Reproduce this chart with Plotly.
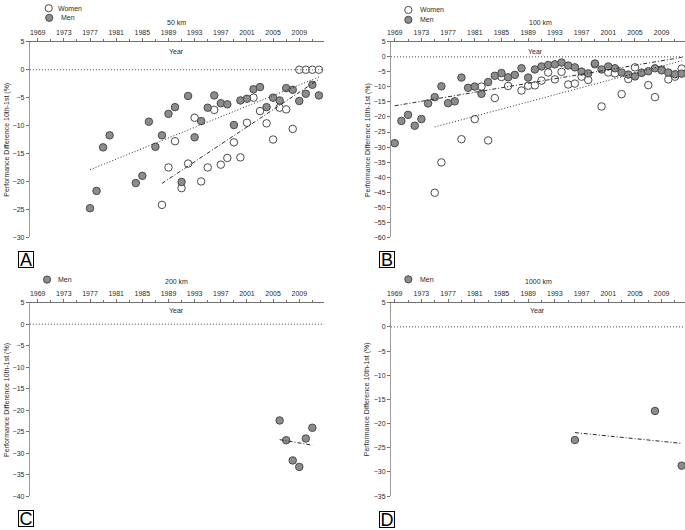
import numpy as np
import plotly.graph_objects as go

W, H = 685, 530

# ---------------- data ----------------
# Panel A: 50 km
years_50_women = [1988, 1989, 1990, 1991, 1992, 1993, 1994, 1995, 1996, 1997, 1998, 1999,
                  2000, 2001, 2002, 2003, 2004, 2005, 2006, 2007, 2008, 2009, 2010, 2011, 2012]
diff_50_women = [-24.2, -17.5, -12.8, -21.2, -16.8, -8.6, -20.0, -17.5, -7.2, -17.0, -15.8, -13.0,
                 -15.7, -9.5, -5.0, -7.4, -9.6, -12.5, -6.8, -7.1, -10.6, 0.0, 0.0, 0.0, 0.0]
years_50_men = [1977, 1978, 1979, 1980, 1984, 1985, 1986, 1987, 1988, 1989, 1990, 1991, 1992,
                1993, 1994, 1995, 1996, 1997, 1998, 1999, 2000, 2001, 2002, 2003, 2004, 2005,
                2006, 2007, 2008, 2009, 2010, 2011, 2012]
diff_50_men = [-24.8, -21.7, -13.9, -11.75, -20.3, -19.0, -9.3, -13.8, -11.75, -7.9, -6.7, -20.1, -4.7,
               -12.1, -9.2, -6.8, -4.6, -6.0, -6.2, -9.9, -5.5, -5.2, -3.5, -3.1, -6.7, -5.0,
               -5.5, -3.3, -3.6, -5.6, -4.3, -2.7, -4.6]

# Panel B: 100 km
years_100_women = [1975, 1976, 1979, 1981, 1982, 1983, 1984, 1985, 1986, 1988, 1989, 1990, 1991,
                   1992, 1993, 1994, 1995, 1996, 1997, 1998, 1999, 2000, 2001, 2002, 2003, 2004,
                   2005, 2006, 2007, 2008, 2009, 2010, 2011, 2012]
diff_100_women = [-45.2, -35.1, -27.4, -20.7, -9.9, -27.8, -13.7, -6.7, -9.7, -11.2, -9.6, -9.5, -7.9,
                  -5.2, -7.5, -5.0, -9.2, -8.9, -6.6, -7.7, -2.5, -16.5, -5.2, -5.5, -12.4, -7.4,
                  -3.5, -5.3, -9.4, -13.4, -4.2, -7.5, -6.6, -3.9]
years_100_men = list(range(1969, 2013))
diff_100_men = [-28.7, -21.3, -19.3, -22.9, -20.7, -15.5, -13.4, -9.8, -15.4, -14.8, -6.9, -10.3,
                -9.9, -12.3, -8.4, -6.3, -5.4, -6.8, -6.0, -3.8, -6.9, -4.2, -3.2, -2.7, -2.5,
                -1.9, -2.9, -3.5, -4.9, -5.5, -2.2, -4.2, -3.2, -3.8, -5.2, -5.9, -6.5, -5.3,
                -4.8, -3.8, -4.5, -5.2, -5.8, -5.6]

# Panel C: 200 km
years_200_men = [2006, 2007, 2008, 2009, 2010, 2011]
diff_200_men = [-22.4, -27.0, -31.7, -33.2, -26.6, -24.1]

# Panel D: 1000 km
years_1000_men = [1996, 2008, 2012]
diff_1000_men = [-23.4, -17.4, -28.7]

tick_years = list(range(1969, 2010, 4))
minor_years = list(range(1971, 2013, 4))
panel_titles = ["50 km", "100 km", "200 km", "1000 km"]
panel_letters = ["A", "B", "C", "D"]
y_title = "Performance Difference 10th-1st (%)"

# ---------------- style ----------------
FONT = "Liberation Sans, Arial, Helvetica, sans-serif"
MEN_FILL = "#8c8c8c"
EDGE = "#4a4a4a"
AXIS = "#707070"
TXT = "#2a2a2a"
DASHDOT = "4px,2px,1px,2px"
DOTTED = "1px,2px"


def px(x):
    return x / W


def py(y):
    return 1 - y / H


fig = go.Figure()


def add_panel(n, women_x, women_y, men_x, men_y, women_dash, men_dash):
    xa = "x" if n == 1 else f"x{n}"
    ya = "y" if n == 1 else f"y{n}"
    if women_x is not None:
        fig.add_trace(go.Scatter(x=women_x, y=women_y, mode="markers", xaxis=xa, yaxis=ya,
                                 marker=dict(size=7.5, color="white", line=dict(color=EDGE, width=1)),
                                 showlegend=False, name="Women", cliponaxis=False))
    fig.add_trace(go.Scatter(x=men_x, y=men_y, mode="markers", xaxis=xa, yaxis=ya,
                             marker=dict(size=7.5, color=MEN_FILL, line=dict(color=EDGE, width=1)),
                             showlegend=False, name="Men", cliponaxis=False))
    # linear trends computed from the data
    series = ([(women_x, women_y, women_dash)] if women_x is not None else []) + [(men_x, men_y, men_dash)]
    for xs, ys, dash in series:
        k, b = np.polyfit(xs, ys, 1)
        xx = np.array([min(xs), max(xs)], dtype=float)
        fig.add_trace(go.Scatter(x=xx, y=k * xx + b, mode="lines", xaxis=xa, yaxis=ya,
                                 line=dict(color="#2a2a2a", width=1, dash=dash),
                                 showlegend=False, hoverinfo="skip"))


add_panel(1, years_50_women, diff_50_women, years_50_men, diff_50_men, DASHDOT, DOTTED)
add_panel(2, years_100_women, diff_100_women, years_100_men, diff_100_men, DOTTED, DASHDOT)
add_panel(3, None, None, years_200_men, diff_200_men, None, DASHDOT)
add_panel(4, None, None, years_1000_men, diff_1000_men, None, DASHDOT)

# ---------------- axes ----------------
left_dom = [px(26), px(322)]
right_dom = [px(389.3), 1.0]
top_dom = [py(236.4), py(38.3)]
bot_dom = [py(498.7), py(302.7)]

x_ranges = [[1967.8, 2012.8], [1968.45, 2012.5], [1967.8, 2012.8], [1968.45, 2012.5]]
y_ranges = [[-30, 5], [-60, 5], [-40, 5], [-35, 5]]
x_doms = [left_dom, right_dom, left_dom, right_dom]
y_doms = [top_dom, top_dom, bot_dom, bot_dom]

layout_axes = {}
for i in range(4):
    n = i + 1
    xkey = "xaxis" if n == 1 else f"xaxis{n}"
    ykey = "yaxis" if n == 1 else f"yaxis{n}"
    layout_axes[xkey] = dict(
        domain=x_doms[i], range=x_ranges[i], side="top",
        anchor="y" if n == 1 else f"y{n}",
        tickvals=tick_years, ticks="outside", ticklen=3, tickwidth=1, tickcolor=AXIS,
        showline=True, linecolor=AXIS, linewidth=1, showgrid=False, zeroline=False,
        tickfont=dict(family=FONT, size=7, color=TXT),
        minor=dict(tickvals=minor_years, ticks="outside", ticklen=2, tickcolor=AXIS, showgrid=False),
    )
    lo, hi = y_ranges[i]
    layout_axes[ykey] = dict(
        domain=y_doms[i], range=[lo, hi],
        anchor="x" if n == 1 else f"x{n}",
        tickvals=list(range(lo, hi + 1, 5)), ticks="outside", ticklen=3, tickwidth=1, tickcolor=AXIS,
        showline=True, linecolor="#9a9a9a", linewidth=1, showgrid=False, zeroline=False,
        tickfont=dict(family=FONT, size=7, color=TXT),
    )

# ---------------- zero lines ----------------
shapes = []
for n in range(1, 5):
    xa = "x" if n == 1 else f"x{n}"
    ya = "y" if n == 1 else f"y{n}"
    shapes.append(dict(type="line", xref=f"{xa} domain", yref=ya, x0=0, x1=1, y0=0, y1=0,
                       line=dict(color="#444", width=1, dash=DOTTED)))

# ---------------- annotations ----------------
ann = []
small = dict(family=FONT, size=7, color=TXT)
title_pos = [(173.3, 19), (540, 19), (173.3, 281.7), (538, 281.7)]
year_pos = [(173.3, 47.7), (534.3, 47.7), (173.3, 311), (536.7, 311)]
ytitle_pos = [(3.5, 137), (365.5, 137.5), (3.5, 400.7), (366, 400.7)]
letter_pos = [(21.7, 259.3), (385.3, 258.7), (22, 521.3), (385.7, 522)]
for i in range(4):
    ann.append(dict(text=panel_titles[i], x=px(title_pos[i][0]), y=py(title_pos[i][1]), xref="paper",
                    yref="paper", showarrow=False, xanchor="center", yanchor="middle", font=small))
    ann.append(dict(text="Year", x=px(year_pos[i][0]), y=py(year_pos[i][1]), xref="paper",
                    yref="paper", showarrow=False, xanchor="center", yanchor="middle", font=small))
    ann.append(dict(text=y_title, x=px(ytitle_pos[i][0]), y=py(ytitle_pos[i][1]), xref="paper",
                    yref="paper", showarrow=False, xanchor="center", yanchor="middle",
                    textangle=-90, font=small))
    ann.append(dict(text=panel_letters[i], x=px(letter_pos[i][0]), y=py(letter_pos[i][1]),
                    xref="paper", yref="paper", showarrow=False, xanchor="center", yanchor="middle",
                    font=dict(family=FONT, size=18, color="black"), bordercolor="black",
                    borderwidth=1, borderpad=0, width=14, height=15))

# legends (symbol shapes + labels)
legend_items = [
    # (circle x, circle y, text x, label, filled)
    (45, 4.3, 52, "Women", False),
    (45.5, 14, 55, "Men", True),
    (406.7, 6, 416.5, "Women", False),
    (406.7, 16, 416, "Men", True),
    (43.3, 279.3, 52.5, "Men", True),
    (406.7, 279, 416, "Men", True),
]
for cx, cy, tx, label, filled in legend_items:
    shapes.append(dict(type="circle", xref="paper", yref="paper", xsizemode="pixel", ysizemode="pixel",
                       xanchor=px(cx), yanchor=py(cy), x0=-3.6, x1=3.6, y0=-3.6, y1=3.6,
                       fillcolor=MEN_FILL if filled else "white", line=dict(color=EDGE, width=1)))
    ann.append(dict(text=label, x=px(tx), y=py(cy), xref="paper", yref="paper", showarrow=False,
                    xanchor="left", yanchor="middle", font=small))

fig.update_layout(
    width=W, height=H, margin=dict(l=0, r=0, t=0, b=0),
    paper_bgcolor="white", plot_bgcolor="white",
    shapes=shapes, annotations=ann, showlegend=False,
    font=dict(family=FONT),
    **layout_axes,
)

fig.write_html("out.html", config={"displayModeBar": False},
               post_script="document.body.style.margin='0px';document.body.style.overflow='hidden';")
